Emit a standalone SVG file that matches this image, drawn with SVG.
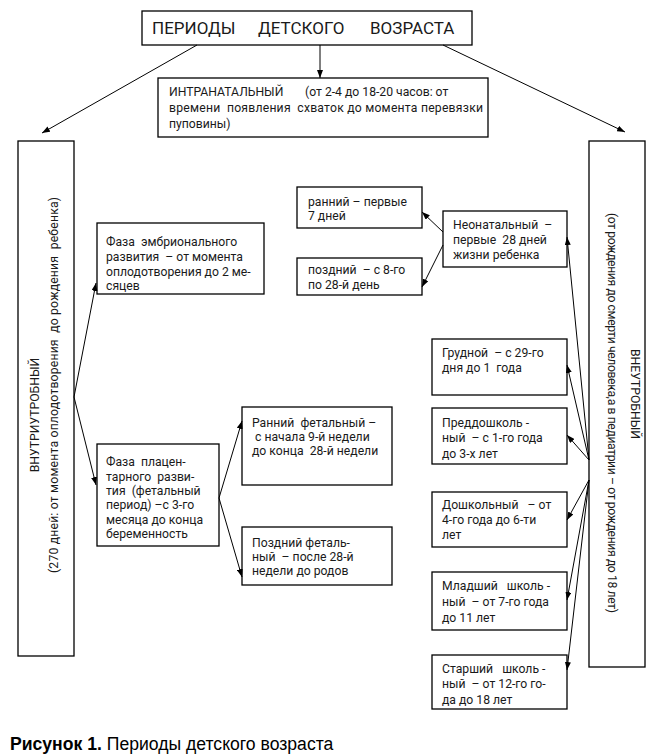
<svg xmlns="http://www.w3.org/2000/svg" width="661" height="756" viewBox="0 0 661 756">
<style>
.b{fill:#fff;stroke:#000;stroke-width:1.3}
.t{font-family:Roboto,"Liberation Sans",sans-serif;font-size:12.2px;fill:#1a1a1a;white-space:pre}
.h{font-size:17px}
.cap{font-family:"Liberation Sans",Arial,sans-serif;font-size:17.6px;fill:#000}
#conn line{stroke:#000;stroke-width:1;marker-end:url(#ah)}
</style>
<defs>
<marker id="ah" markerUnits="userSpaceOnUse" markerWidth="8" markerHeight="6" refX="8" refY="3" orient="auto">
<path d="M0,0 L8,3 L0,6 z" fill="#000"/>
</marker>
</defs>
<rect width="661" height="756" fill="#fff"/>

<g id="title">
<rect class="b" x="142" y="11" width="330" height="34"/>
<text class="t h" x="152" y="34">ПЕРИОДЫ</text>
<text class="t h" x="258" y="34">ДЕТСКОГО</text>
<text class="t h" x="370" y="34">ВОЗРАСТА</text>
</g>

<g id="intranatal">
<rect class="b" x="158" y="78" width="330" height="59"/>
<text class="t" x="169" y="96">ИНТРАНАТАЛЬНЫЙ</text>
<text class="t" x="305" y="96">(от 2-4 до 18-20 часов: от</text>
<text class="t" x="169" y="112" textLength="314" lengthAdjust="spacing">времени  появления  схваток до момента перевязки</text>
<text class="t" x="169" y="128">пуповины)</text>
</g>

<g id="intrauterine">
<rect class="b" x="18" y="141" width="56" height="515"/>
<text class="t" transform="translate(39,415) rotate(-90)" text-anchor="middle">ВНУТРИУТРОБНЫЙ</text>
<text class="t" transform="translate(58,385) rotate(-90)" text-anchor="middle" textLength="376" lengthAdjust="spacing">(270 дней: от момента оплодотворения  до рождения  ребенка)</text>
</g>

<g id="extrauterine">
<rect class="b" x="589" y="141" width="56" height="526"/>
<text class="t" transform="translate(631,394) rotate(90)" text-anchor="middle">ВНЕУТРОБНЫЙ</text>
<text class="t" transform="translate(608,413) rotate(90)" text-anchor="middle" textLength="400" lengthAdjust="spacing">(от рождения до смерти человека,а в педиатрии – от рождения до 18 лет)</text>
</g>

<g id="embryonic">
<rect class="b" x="97" y="223" width="167" height="71"/>
<text class="t" x="106" y="246">Фаза  эмбрионального</text>
<text class="t" x="106" y="261">развития  – от момента</text>
<text class="t" x="106" y="276">оплодотворения до 2 ме-</text>
<text class="t" x="106" y="290">сяцев</text>
</g>

<g id="placental">
<rect class="b" x="97" y="444" width="122" height="102"/>
<text class="t" x="106" y="466">Фаза  плацен-</text>
<text class="t" x="106" y="481">тарного  разви-</text>
<text class="t" x="106" y="495">тия  (фетальный</text>
<text class="t" x="106" y="509">период) –с 3-го</text>
<text class="t" x="106" y="524">месяца до конца</text>
<text class="t" x="106" y="538">беременность</text>
</g>

<g id="early-fetal">
<rect class="b" x="242" y="407" width="150" height="78"/>
<text class="t" x="252" y="427">Ранний  фетальный –</text>
<text class="t" x="252" y="441"> с начала 9-й недели</text>
<text class="t" x="252" y="455">до конца  28-й недели</text>
</g>

<g id="late-fetal">
<rect class="b" x="242" y="527" width="150" height="58"/>
<text class="t" x="252" y="547">Поздний феталь-</text>
<text class="t" x="252" y="561">ный  – после 28-й</text>
<text class="t" x="252" y="575">недели до родов</text>
</g>

<g id="early-neonatal">
<rect class="b" x="297" y="187" width="125" height="41"/>
<text class="t" x="308" y="206">ранний – первые</text>
<text class="t" x="308" y="220">7 дней</text>
</g>

<g id="late-neonatal">
<rect class="b" x="297" y="258" width="125" height="37"/>
<text class="t" x="308" y="274">поздний  – с 8-го</text>
<text class="t" x="308" y="289">по 28-й день</text>
</g>

<g id="neonatal">
<rect class="b" x="443" y="211" width="124" height="56"/>
<text class="t" x="453" y="229">Неонатальный  –</text>
<text class="t" x="453" y="244">первые  28 дней</text>
<text class="t" x="453" y="259">жизни ребенка</text>
</g>

<g id="infant">
<rect class="b" x="432" y="339" width="135" height="56"/>
<text class="t" x="442" y="357">Грудной  – с 29-го</text>
<text class="t" x="442" y="372">дня до 1  года</text>
</g>

<g id="preschool-early">
<rect class="b" x="432" y="408" width="135" height="56"/>
<text class="t" x="442" y="427">Преддошколь -</text>
<text class="t" x="442" y="442">ный  – с 1-го года</text>
<text class="t" x="442" y="458">до 3-х лет</text>
</g>

<g id="preschool">
<rect class="b" x="432" y="492" width="135" height="55"/>
<text class="t" x="442" y="509">Дошкольный   – от</text>
<text class="t" x="442" y="524">4-го года до 6-ти</text>
<text class="t" x="442" y="539">лет</text>
</g>

<g id="junior-school">
<rect class="b" x="432" y="572" width="135" height="58"/>
<text class="t" x="442" y="590">Младший   школь -</text>
<text class="t" x="442" y="606">ный  – от 7-го года</text>
<text class="t" x="442" y="622">до 11 лет</text>
</g>

<g id="senior-school">
<rect class="b" x="432" y="655" width="135" height="54"/>
<text class="t" x="442" y="673">Старший   школь -</text>
<text class="t" x="442" y="688">ный  – от 12-го го-</text>
<text class="t" x="442" y="704">да до 18 лет</text>
</g>

<g id="conn">
<line x1="197" y1="45" x2="42" y2="133"/>
<line x1="320" y1="45" x2="320" y2="78"/>
<line x1="443" y1="45" x2="625" y2="132"/>
<line x1="74" y1="397" x2="96" y2="283"/>
<line x1="74" y1="397" x2="96" y2="485"/>
<line x1="219" y1="498" x2="242" y2="421"/>
<line x1="219" y1="498" x2="242" y2="577"/>
<line x1="443" y1="232" x2="422" y2="212"/>
<line x1="443" y1="245" x2="422" y2="287"/>
<line x1="589" y1="460" x2="567" y2="237"/>
<line x1="589" y1="460" x2="567" y2="365"/>
<line x1="589" y1="460" x2="567" y2="435"/>
<line x1="589" y1="480" x2="567" y2="520"/>
<line x1="589" y1="480" x2="567" y2="600"/>
<line x1="589" y1="480" x2="567" y2="670"/>
</g>

<text class="cap" x="10" y="750"><tspan font-weight="bold">Рисунок 1.</tspan> Периоды детского возраста</text>
</svg>
